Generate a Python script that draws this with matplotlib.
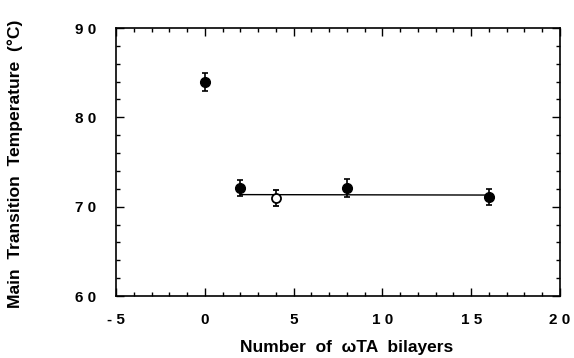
import numpy as np
import matplotlib.pyplot as plt
from matplotlib.ticker import MultipleLocator, FuncFormatter

# Transition temperature vs. number of bilayers
filledX = [0, 2, 8, 16]
filledY = [84.0, 72.1, 72.1, 71.1]
filledErr = [1.0, 0.9, 1.0, 0.9]

openX = [4]
openY = [71.0]
openErr = [0.9]

fitX = [2, 16]
fitY = [71.35, 71.3]

plt.rcParams['font.family'] = ['Liberation Sans', 'DejaVu Sans']
plt.rcParams['font.weight'] = 'bold'

fig = plt.figure(figsize=(5.74, 3.58), dpi=100)
ax = fig.add_axes([116/574, 1 - 296/358, 444/574, 268/358])

ax.plot(fitX, fitY, color='black', lw=1.0)
ax.errorbar(filledX, filledY, yerr=filledErr, fmt='o', color='black',
            ms=7, capsize=2.5, elinewidth=1.2, capthick=1.2)
ax.errorbar(openX, openY, yerr=openErr, fmt='o', color='black', mfc='white',
            mew=1.3, ms=6.5, capsize=2.5, elinewidth=1.2, capthick=1.2)

ax.set_xlim(-5, 20)
ax.set_ylim(60, 90)
ax.xaxis.set_major_locator(MultipleLocator(5))
ax.xaxis.set_minor_locator(MultipleLocator(1))
ax.yaxis.set_major_locator(MultipleLocator(10))
ax.yaxis.set_minor_locator(MultipleLocator(2))

# spaced-out digits on the tick labels
spaced = FuncFormatter(lambda v, p: ' '.join('%d' % v))
ax.xaxis.set_major_formatter(spaced)
ax.yaxis.set_major_formatter(spaced)

ax.tick_params(which='both', direction='in', top=True, right=True,
               labelsize=11, width=1.0)
ax.tick_params(which='major', length=6)
ax.tick_params(axis='x', which='major', pad=12)
ax.tick_params(axis='y', which='major', pad=14)
ax.tick_params(which='minor', length=3)
for s in ax.spines.values():
    s.set_linewidth(1.2)

ax.set_xlabel('Number  of  ωTA  bilayers', fontsize=12.5, fontweight='bold')
ax.set_ylabel('Main  Transition  Temperature  (°C)', fontsize=12.6, fontweight='bold')
ax.xaxis.set_label_coords(0.519, -0.165)
ax.yaxis.set_label_coords(-0.2095, 0.494)

fig.savefig('out.png', dpi=100)
